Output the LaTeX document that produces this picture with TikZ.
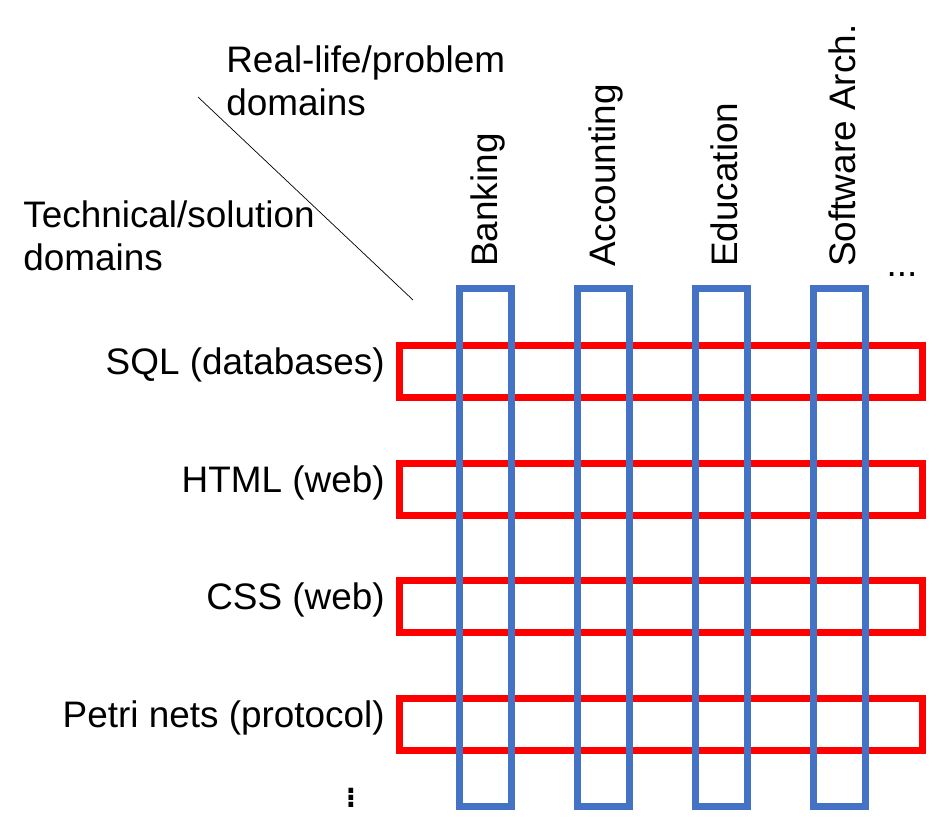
\documentclass[tikz,border=0pt]{standalone}
\usepackage{fontspec}
\setmainfont{Liberation Sans}
\begin{document}
\begin{tikzpicture}[x=0.02cm, y=-0.02cm,
    lbl/.style={font=\fontsize{21}{24.5}\selectfont, inner sep=0pt},
    rowbox/.style={draw={rgb,255:red,255;green,0;blue,0}, line width=0.14cm},
    colbox/.style={draw={rgb,255:red,68;green,114;blue,196}, line width=0.14cm}]
    \useasboundingbox (0,0) rectangle (942,835);
    % technical rows
    \foreach \y/\t [count=\i] in {371/SQL (databases), 489/HTML (web), 606/CSS (web), 724/Petri nets (protocol)} {
        \draw[rowbox] (399,\y-26) rectangle (922,\y+26);
        \node[lbl, anchor=east] (row\i) at (385,\y-6) {\t};
    }
    \node[inner sep=0pt, font=\fontsize{28}{30}\selectfont] (rowdots) at (351,793) {$\vdots$};
    % problem columns
    \foreach \x/\t [count=\i] in {485/Banking, 603/Accounting, 721/Education, 839/Software Arch.} {
        \draw[colbox] (\x-26,288) rectangle (\x+26,806);
        \node[lbl, anchor=west, rotate=90] (col\i) at (\x+3,267) {\t};
    }
    \node[lbl, anchor=base] (coldots) at (902,276) {...};
    % corner
    \coordinate (diagA) at (198,97);
    \coordinate (diagB) at (413,300);
    \draw (diagA) -- (diagB);
    \node[lbl, anchor=north west, align=left] (real) at (226,45) {Real-life/problem\\domains};
    \node[lbl, anchor=north west, align=left] (tech) at (23,200) {Technical/solution\\domains};
\end{tikzpicture}
\end{document}
